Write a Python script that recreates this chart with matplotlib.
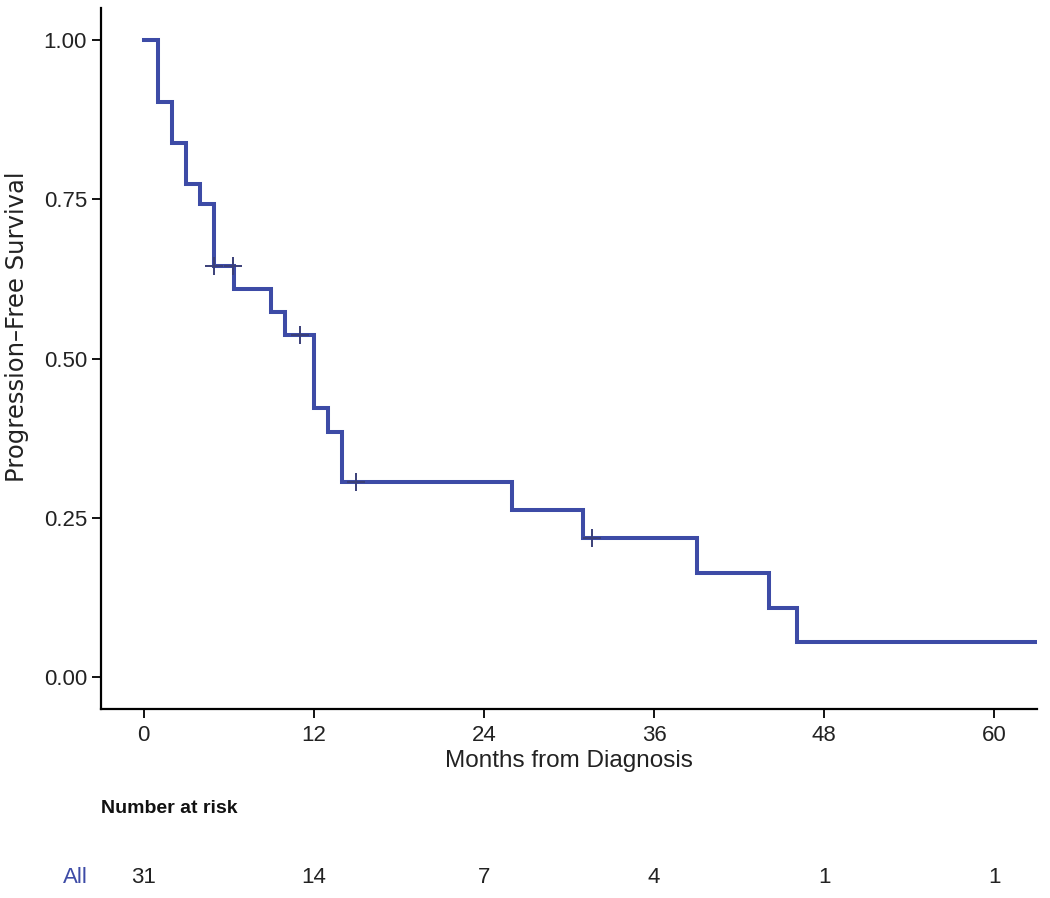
import matplotlib
matplotlib.use("Agg")
import matplotlib.pyplot as plt
import numpy as np

# Kaplan-Meier steps
event_times = [0, 1, 2, 3, 4, 5, 6.35, 9, 10, 12, 13, 14, 26, 31, 39, 44.1, 46.1]
survival = [1.00, 0.903, 0.839, 0.774, 0.742, 0.645, 0.609, 0.573, 0.537,
            0.422, 0.384, 0.307, 0.263, 0.219, 0.164, 0.109, 0.055]
last_followup = 63
censor_times = [5.0, 6.3, 11.0, 15.0, 31.6]

risk_times = [0, 12, 24, 36, 48, 60]
at_risk = [31, 14, 7, 4, 1, 1]

blue = "#3D4BA6"
plt.rcParams['font.family'] = ['Liberation Sans', 'DejaVu Sans']

fig = plt.figure(figsize=(10.5, 8.98), dpi=100)
ax = fig.add_axes([0.0962, 0.2105, 0.8914, 0.7805])

x = list(event_times) + [last_followup]
y = list(survival) + [survival[-1]]
ax.step(x, y, where='post', color=blue, lw=2.9, solid_joinstyle='miter')

# censor marks sit on the curve
idx = np.searchsorted(event_times, censor_times, side='right') - 1
censor_surv = np.array(survival)[idx]
ax.plot(censor_times, censor_surv, ls='none', marker='+', ms=13, mew=1.4,
        color="#3a3f78", zorder=3)

ax.set_xlim(-3, 63)
ax.set_ylim(-0.05, 1.05)
ax.set_xticks(risk_times)
ax.set_yticks([0, 0.25, 0.5, 0.75, 1.0])
ax.set_yticklabels(["0.00", "0.25", "0.50", "0.75", "1.00"])
ax.tick_params(axis='both', direction='out', length=6.5, width=1.3, colors='black',
               labelsize=16, labelcolor='#222222')
ax.tick_params(axis='x', pad=5)
for s in ['top', 'right']:
    ax.spines[s].set_visible(False)
for s in ['left', 'bottom']:
    ax.spines[s].set_linewidth(1.6)
ax.set_xlabel("Months from Diagnosis", fontsize=17.5, labelpad=3, color='#222222')
ax.set_ylabel("Progression\u2013Free Survival", fontsize=17.5, color='#222222',
              family=['DejaVu Sans'])
ax.yaxis.set_label_coords(-0.077, 0.545)

# number at risk table
rax = fig.add_axes([0.0962, 0.0, 0.8914, 0.05])
rax.set_xlim(ax.get_xlim())
rax.set_ylim(0, 1)
rax.axis('off')
for t, n in zip(risk_times, at_risk):
    rax.text(t, 0.45, str(n), ha='center', va='center', fontsize=16, color='#222222')
fig.text(0.0962, 0.1, "Number at risk", fontsize=14, fontweight='bold',
         ha='left', va='center', color='#111111')
fig.text(0.072, 0.0225, "All", fontsize=16, ha='center', va='center', color=blue)

fig.savefig("out.png", dpi=100)
